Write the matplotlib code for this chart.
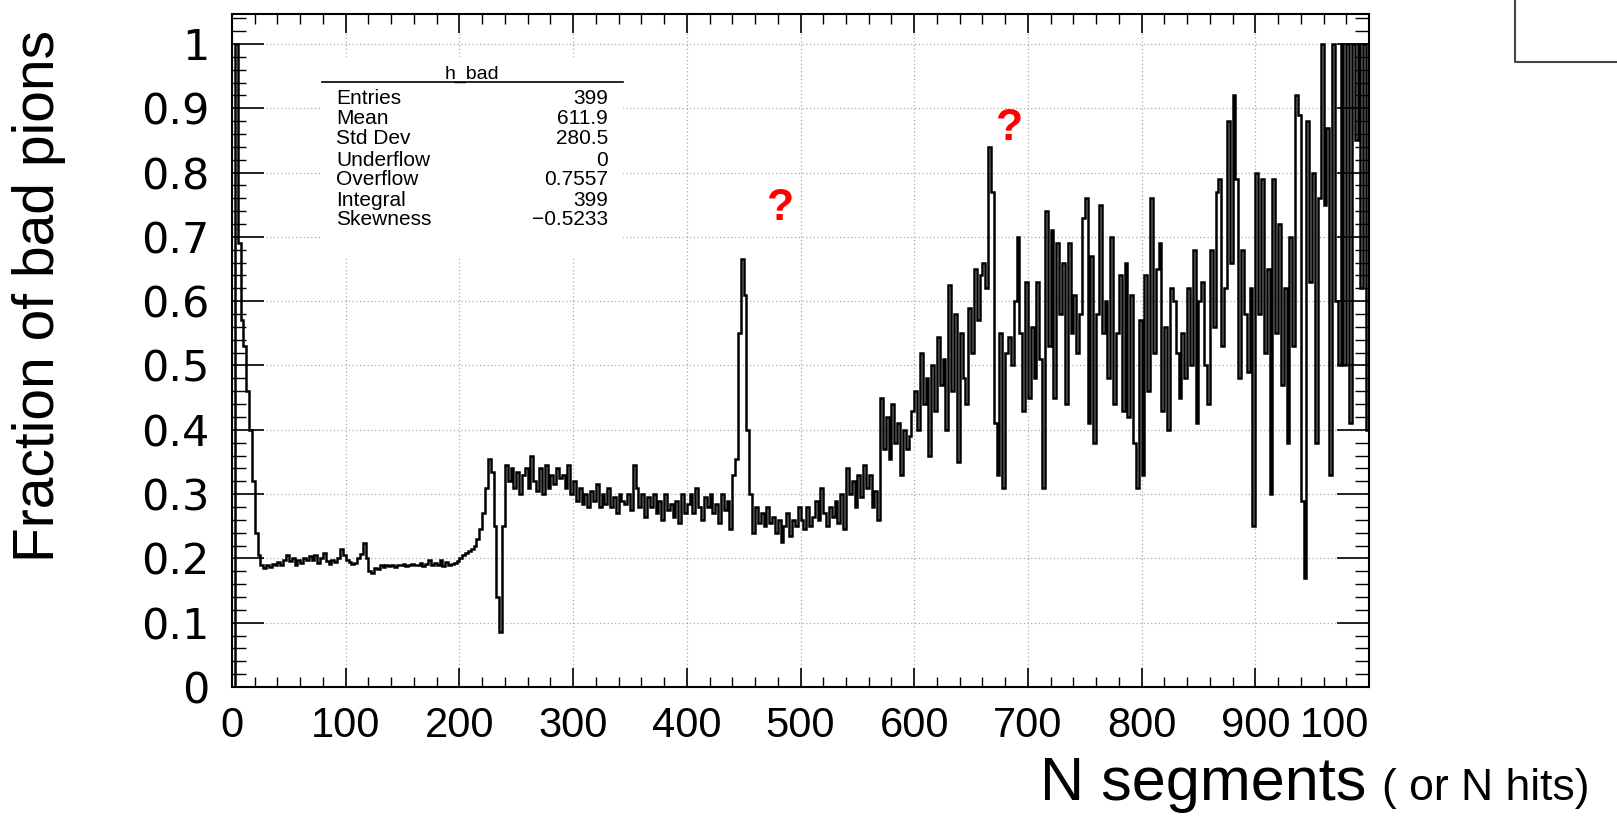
import numpy as np
import matplotlib
matplotlib.use("Agg")
import matplotlib.pyplot as plt
from matplotlib.patches import Rectangle
from matplotlib.lines import Line2D
from matplotlib.ticker import MultipleLocator

plt.rcParams['font.family'] = ['Liberation Sans', 'DejaVu Sans']

### histogram contents, bin width 2.5, one list per 100 segments ###
bin_width = 2.5
seg_000 = [0.0, 1.0, 0.69, 0.57, 0.53, 0.46, 0.40, 0.32, 0.24, 0.205,
           0.19, 0.185, 0.19, 0.187, 0.192, 0.19, 0.195, 0.19, 0.198, 0.205,
           0.196, 0.20, 0.19, 0.197, 0.193, 0.20, 0.198, 0.203, 0.197, 0.205,
           0.193, 0.20, 0.208, 0.196, 0.192, 0.198, 0.195, 0.20, 0.215, 0.205]
seg_100 = [0.198, 0.195, 0.192, 0.193, 0.20, 0.207, 0.224, 0.20, 0.18, 0.178,
           0.185, 0.183, 0.19, 0.186, 0.19, 0.188, 0.19, 0.187, 0.19, 0.189,
           0.191, 0.188, 0.19, 0.192, 0.189, 0.19, 0.193, 0.188, 0.192, 0.198,
           0.19, 0.193, 0.19, 0.197, 0.188, 0.195, 0.19, 0.192, 0.193, 0.196]
seg_200 = [0.20, 0.205, 0.208, 0.212, 0.215, 0.22, 0.23, 0.245, 0.27, 0.31,
           0.355, 0.335, 0.25, 0.14, 0.085, 0.25, 0.345, 0.32, 0.34, 0.31,
           0.335, 0.30, 0.33, 0.34, 0.31, 0.36, 0.32, 0.305, 0.34, 0.30,
           0.345, 0.31, 0.33, 0.315, 0.34, 0.325, 0.33, 0.31, 0.345, 0.30]
seg_300 = [0.32, 0.29, 0.31, 0.285, 0.30, 0.28, 0.305, 0.29, 0.315, 0.28,
           0.30, 0.285, 0.31, 0.28, 0.295, 0.27, 0.30, 0.29, 0.285, 0.30,
           0.275, 0.345, 0.31, 0.28, 0.30, 0.265, 0.295, 0.28, 0.30, 0.27,
           0.29, 0.26, 0.30, 0.275, 0.285, 0.265, 0.29, 0.255, 0.30, 0.27]
seg_400 = [0.285, 0.30, 0.27, 0.31, 0.28, 0.26, 0.295, 0.28, 0.30, 0.27,
           0.285, 0.255, 0.30, 0.275, 0.29, 0.245, 0.33, 0.355, 0.55, 0.665,
           0.61, 0.40, 0.30, 0.24, 0.28, 0.255, 0.27, 0.25, 0.28, 0.255,
           0.265, 0.24, 0.26, 0.225, 0.25, 0.27, 0.235, 0.26, 0.25, 0.28]
seg_500 = [0.26, 0.245, 0.28, 0.25, 0.265, 0.29, 0.26, 0.31, 0.27, 0.25,
           0.28, 0.265, 0.29, 0.255, 0.30, 0.245, 0.34, 0.30, 0.32, 0.28,
           0.33, 0.295, 0.345, 0.31, 0.33, 0.28, 0.305, 0.26, 0.45, 0.37,
           0.42, 0.355, 0.44, 0.38, 0.41, 0.33, 0.40, 0.37, 0.39, 0.43]
seg_600 = [0.46, 0.40, 0.52, 0.44, 0.48, 0.36, 0.50, 0.43, 0.545, 0.47,
           0.51, 0.40, 0.625, 0.46, 0.58, 0.35, 0.55, 0.48, 0.44, 0.59,
           0.52, 0.65, 0.57, 0.64, 0.66, 0.62, 0.84, 0.77, 0.41, 0.33,
           0.55, 0.31, 0.52, 0.545, 0.50, 0.60, 0.70, 0.55, 0.43, 0.63]
seg_700 = [0.45, 0.56, 0.48, 0.63, 0.51, 0.31, 0.74, 0.53, 0.71, 0.45,
           0.69, 0.58, 0.66, 0.44, 0.69, 0.55, 0.61, 0.52, 0.58, 0.73,
           0.76, 0.41, 0.67, 0.38, 0.58, 0.75, 0.55, 0.60, 0.48, 0.70,
           0.44, 0.55, 0.64, 0.43, 0.66, 0.42, 0.61, 0.38, 0.31, 0.57]
seg_800 = [0.33, 0.64, 0.46, 0.76, 0.52, 0.65, 0.69, 0.43, 0.56, 0.40,
           0.62, 0.60, 0.52, 0.45, 0.55, 0.48, 0.62, 0.50, 0.68, 0.41,
           0.60, 0.63, 0.50, 0.44, 0.68, 0.56, 0.77, 0.79, 0.53, 0.62,
           0.88, 0.66, 0.92, 0.79, 0.48, 0.68, 0.58, 0.49, 0.62, 0.25]
seg_900 = [0.80, 0.58, 0.79, 0.52, 0.65, 0.30, 0.79, 0.55, 0.72, 0.47,
           0.62, 0.38, 0.70, 0.53, 0.92, 0.89, 0.29, 0.17, 0.88, 0.63,
           0.80, 0.38, 0.76, 1.0, 0.75, 0.87, 0.33, 1.0, 0.60, 0.50,
           1.0, 0.50, 1.0, 0.41, 1.0, 0.85, 1.0, 0.62, 1.0, 0.40]

x_ticks = [0, 100, 200, 300, 400, 500, 600, 700, 800, 900, 1000]
x_tick_labels = ['0', '100', '200', '300', '400', '500', '600', '700', '800', '900', '100']
y_ticks = [0, 0.1, 0.2, 0.3, 0.4, 0.5, 0.6, 0.7, 0.8, 0.9, 1.0]
y_tick_labels = ['0', '0.1', '0.2', '0.3', '0.4', '0.5', '0.6', '0.7', '0.8', '0.9', '1']

stat_names = ['Entries', 'Mean', 'Std Dev', 'Underflow', 'Overflow', 'Integral', 'Skewness']
stat_values = ['399', '611.9', '280.5', '0', '0.7557', '399', '\u22120.5233']

values = np.array(seg_000 + seg_100 + seg_200 + seg_300 + seg_400 +
                  seg_500 + seg_600 + seg_700 + seg_800 + seg_900)
edges = np.arange(len(values) + 1) * bin_width

W, H = 1617, 817
fig = plt.figure(figsize=(W / 100, H / 100), dpi=100)
ax = fig.add_axes([232 / W, 1 - 687 / H, (1369 - 232) / W, (687 - 14.4) / H])

ax.stairs(values, edges, baseline=None, color='black', lw=1.8, zorder=2)

ax.set_xlim(0, 1000)
ax.set_ylim(0, 1.046)
ax.set_xticks(x_ticks)
ax.set_xticklabels(x_tick_labels, fontsize=30)
ax.get_xticklabels()[-1].set_ha('right')
ax.set_yticks(y_ticks)
ax.set_yticklabels(y_tick_labels, fontsize=31, family=['DejaVu Sans'])
ax.xaxis.set_minor_locator(MultipleLocator(20))
ax.yaxis.set_minor_locator(MultipleLocator(0.02))
ax.tick_params(axis='x', which='major', direction='in', length=14, width=1.2,
               top=True, bottom=True, pad=14)
ax.tick_params(axis='x', which='minor', direction='in', length=7, width=1.0,
               top=True, bottom=True)
ax.tick_params(axis='y', which='major', direction='in', length=23, width=1.2,
               left=True, right=True, pad=16)
ax.tick_params(axis='y', which='minor', direction='in', length=10, width=1.0,
               left=True, right=True)
for s in ax.spines.values():
    s.set_linewidth(1.5)
ax.grid(True, which='major', color='#aaaaaa', lw=0.9, ls=(0, (1, 2)))

### stats box ###
ax.add_patch(Rectangle((320 / W, 1 - 258 / H), (623 - 320) / W, (258 - 57) / H,
                       transform=fig.transFigure, facecolor='white',
                       edgecolor='none', zorder=1.8, clip_on=False))
fig.add_artist(Line2D([322 / W, 623 / W], [1 - 82 / H, 1 - 82 / H], color='black', lw=1.2))
fig.text(472 / W, 1 - 74 / H, 'h_bad', fontsize=14, ha='center', va='center')
row_y = [99, 118.6, 139, 160, 179.4, 200, 219.6]
for name, val, yy in zip(stat_names, stat_values, row_y):
    fig.text(336 / W, 1 - yy / H, name, fontsize=15, ha='left', va='center')
    fig.text(608 / W, 1 - yy / H, val, fontsize=15, ha='right', va='center')

### axis titles ###
fig.text(39 / W, 1 - 296 / H, 'Fraction of bad pions', fontsize=41, rotation=90,
         ha='center', va='center')
fig.text(1366 / W, 1 - 800 / H, 'N segments', fontsize=44, ha='right', va='baseline')
fig.text(1382 / W, 1 - 800 / H, '( or N hits)', fontsize=32, ha='left', va='baseline')

### red question marks ###
fig.text(781 / W, 1 - 209 / H, '?', fontsize=32, fontweight='bold', color='#ff0000',
         ha='center', va='center')
fig.text(1010 / W, 1 - 129 / H, '?', fontsize=32, fontweight='bold', color='#ff0000',
         ha='center', va='center')

### corner of the other pad ###
fig.add_artist(Line2D([1515 / W, 1515 / W, 1.0], [1.0, 1 - 62 / H, 1 - 62 / H],
                      color='#444444', lw=1.5))

fig.savefig('out.png', dpi=100)
